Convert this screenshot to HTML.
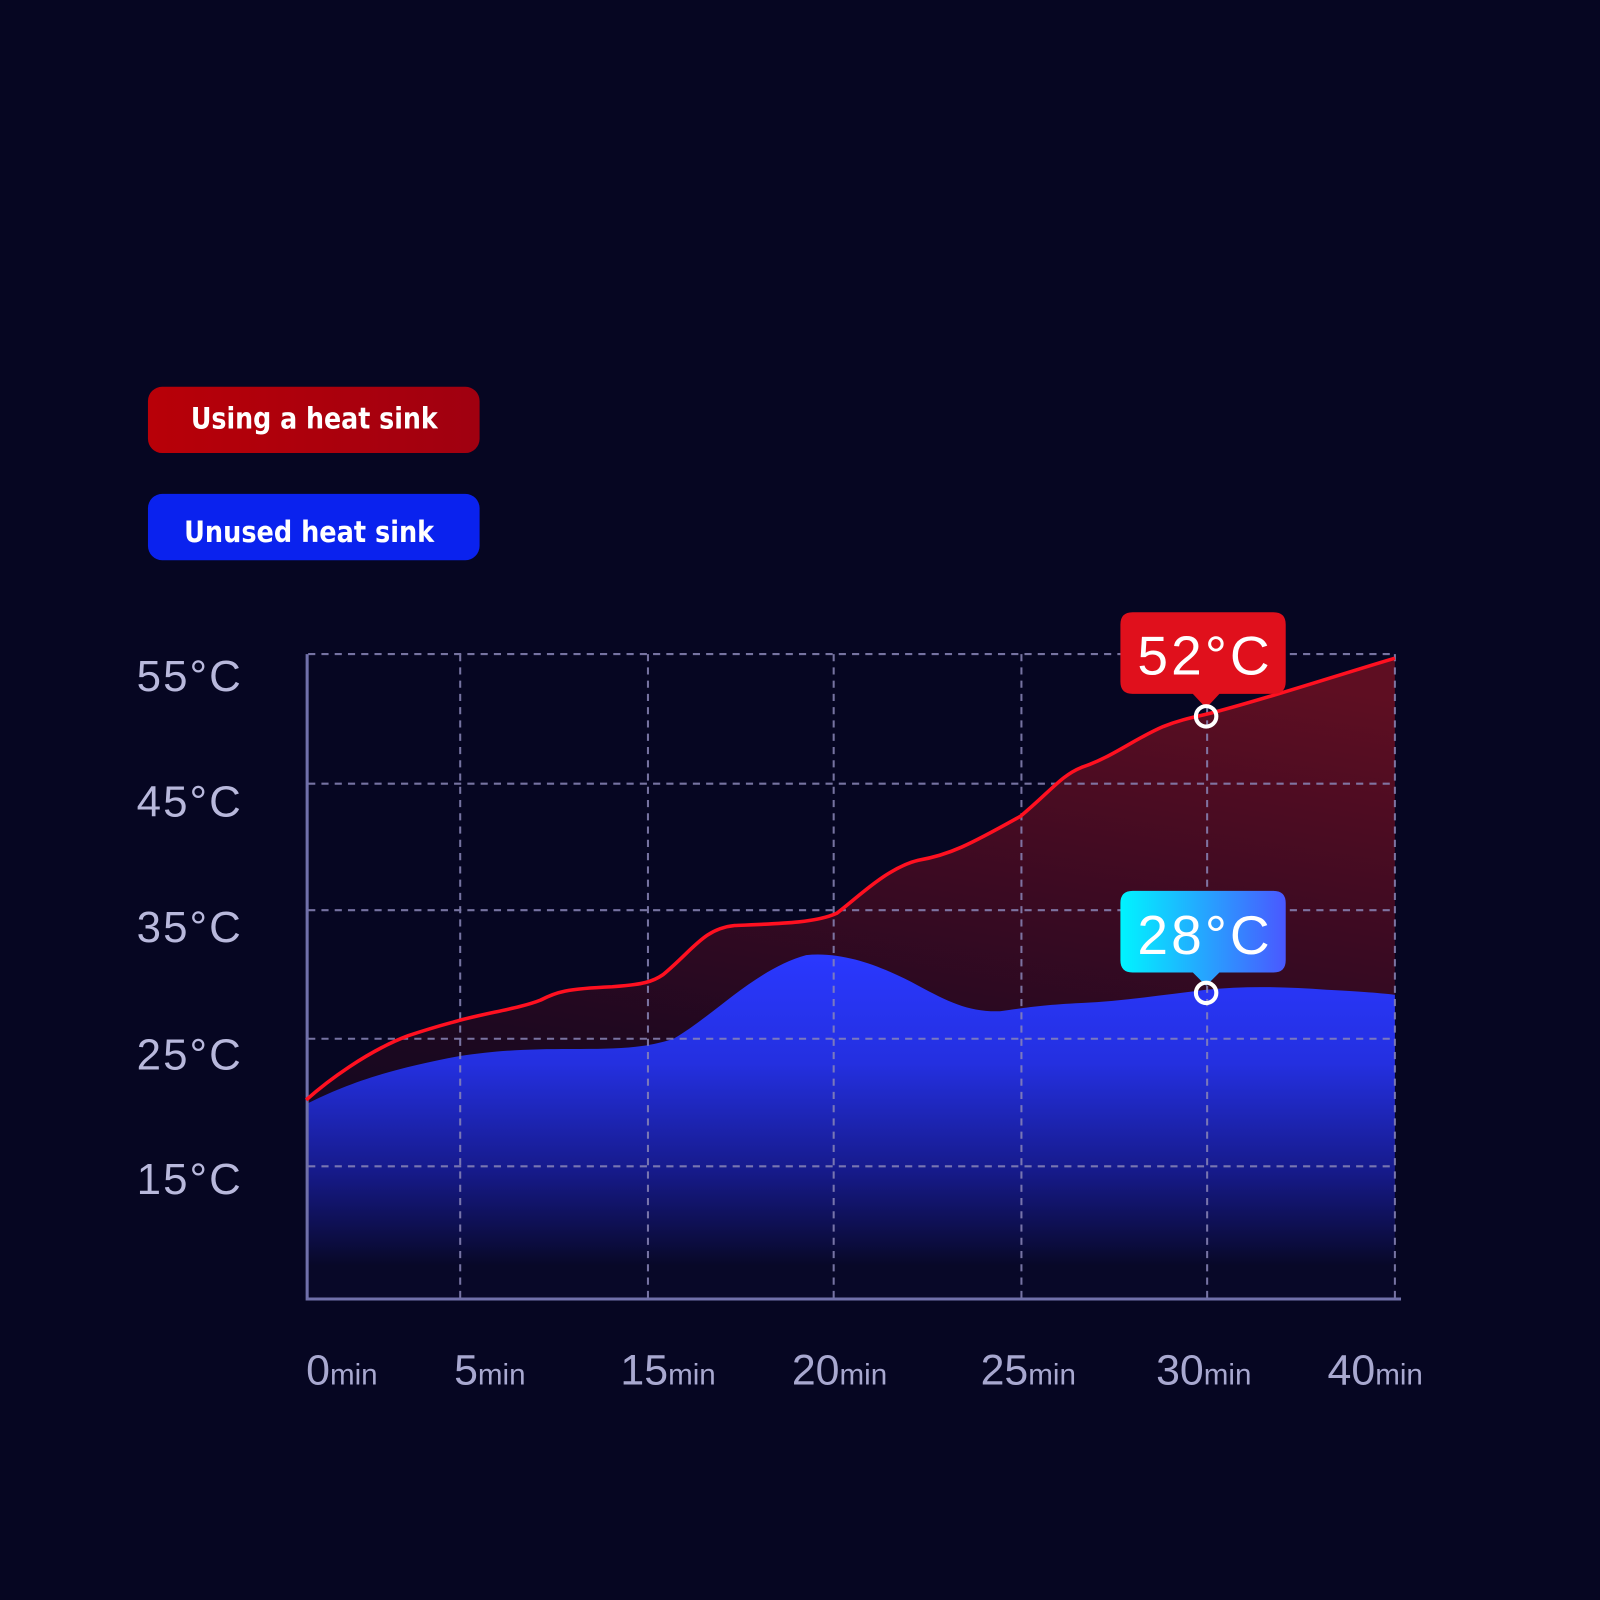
<!DOCTYPE html>
<html><head><meta charset="utf-8"><style>
html,body{margin:0;padding:0;background:#060622;}
svg{display:block}
</style></head><body>
<svg width="1600" height="1600" viewBox="0 0 1568 1568" xmlns="http://www.w3.org/2000/svg" font-family="'Liberation Sans', sans-serif">
<defs>
<linearGradient id="rf" gradientUnits="userSpaceOnUse" x1="1150" y1="650" x2="1050" y2="1272">
<stop offset="0" stop-color="#5e0e22"/><stop offset="0.4" stop-color="#3a0a22"/><stop offset="0.75" stop-color="#1c0820"/><stop offset="1" stop-color="#120820"/>
</linearGradient>
<linearGradient id="bf" gradientUnits="userSpaceOnUse" x1="0" y1="935" x2="0" y2="1240">
<stop offset="0" stop-color="#2a38ff"/><stop offset="0.35" stop-color="#2430e0"/><stop offset="0.7" stop-color="#161a8a"/><stop offset="1" stop-color="#080828"/>
</linearGradient>
<linearGradient id="cy" x1="0" y1="0" x2="1" y2="0">
<stop offset="0" stop-color="#00f4ff"/><stop offset="1" stop-color="#4a58ff"/>
</linearGradient>
<linearGradient id="rl" x1="0" y1="0" x2="1" y2="0">
<stop offset="0" stop-color="#b80008"/><stop offset="1" stop-color="#a00010"/>
</linearGradient>
</defs>
<rect width="1568" height="1568" fill="#060622"/>

<rect x="145" y="379" width="325" height="65" rx="14" fill="url(#rl)"/>
<text x="308" y="420" fill="#fff" font-size="29" font-weight="bold" text-anchor="middle" font-family="'DejaVu Sans Condensed', 'DejaVu Sans', sans-serif" font-stretch="condensed" textLength="242" lengthAdjust="spacingAndGlyphs">Using a heat sink</text>
<rect x="145" y="484" width="325" height="65" rx="14" fill="#0a22ee"/>
<text x="303" y="531" fill="#fff" font-size="29" font-weight="bold" text-anchor="middle" font-family="'DejaVu Sans Condensed', 'DejaVu Sans', sans-serif" font-stretch="condensed" textLength="245" lengthAdjust="spacingAndGlyphs">Unused heat sink</text>

<path d="M300,1078 C320,1060 360,1030 400,1015 C430,1005 440,1003 450,1000 C480,992 510,988 530,980 C545,972 555,969 600,967 C630,965 640,962 650,955 C680,930 690,910 720,907 C770,905 800,904 820,895 C840,880 870,850 900,843 C930,838 950,828 1000,800 C1030,775 1040,760 1060,752 C1090,742 1110,725 1140,712 C1160,704 1175,702 1190,698 C1250,682 1300,665 1367,645 L1367,1272 L300,1272 Z" fill="url(#rf)"/>
<path d="M300,1082 C340,1062 380,1048 450,1035 C490,1029 520,1028 560,1028 C600,1028 630,1028 660,1018 C700,995 740,950 790,936 C830,932 870,950 900,966 C930,982 950,992 980,991 C1010,987 1020,985 1060,983 C1100,981 1140,975 1182,970 C1220,966 1260,967 1300,970 C1340,972 1360,974 1367,975 L1367,1272 L300,1272 Z" fill="url(#bf)"/>

<g stroke="#8a86b8" stroke-width="2" stroke-dasharray="7,6" fill="none" opacity="0.85">
<line x1="302" y1="641" x2="1367" y2="641"/>
<line x1="302" y1="768" x2="1367" y2="768"/>
<line x1="302" y1="892" x2="1367" y2="892"/>
<line x1="302" y1="1018" x2="1367" y2="1018"/>
<line x1="302" y1="1143" x2="1367" y2="1143"/>
<line x1="451" y1="641" x2="451" y2="1272"/>
<line x1="635" y1="641" x2="635" y2="1272"/>
<line x1="817" y1="641" x2="817" y2="1272"/>
<line x1="1001" y1="641" x2="1001" y2="1272"/>
<line x1="1183" y1="641" x2="1183" y2="1272"/>
<line x1="1367" y1="641" x2="1367" y2="1272"/>
</g>
<path d="M301,641 L301,1273 L1373,1273" stroke="#7070aa" stroke-width="3" fill="none"/>

<path d="M300,1078 C320,1060 360,1030 400,1015 C430,1005 440,1003 450,1000 C480,992 510,988 530,980 C545,972 555,969 600,967 C630,965 640,962 650,955 C680,930 690,910 720,907 C770,905 800,904 820,895 C840,880 870,850 900,843 C930,838 950,828 1000,800 C1030,775 1040,760 1060,752 C1090,742 1110,725 1140,712 C1160,704 1175,702 1190,698 C1250,682 1300,665 1367,645" stroke="#ff1020" stroke-width="3.5" fill="none"/>

<g fill="#b8b8dc" font-size="43" text-anchor="end" letter-spacing="2">
<text x="238" y="677">55°C</text>
<text x="238" y="800">45°C</text>
<text x="238" y="923">35°C</text>
<text x="238" y="1048">25°C</text>
<text x="238" y="1170">15°C</text>
</g>
<g fill="#a8a8d0" font-size="42">
<text x="300" y="1357">0<tspan font-size="29">min</tspan></text>
<text x="445" y="1357">5<tspan font-size="29">min</tspan></text>
<text x="608" y="1357">15<tspan font-size="29">min</tspan></text>
<text x="776" y="1357">20<tspan font-size="29">min</tspan></text>
<text x="961" y="1357">25<tspan font-size="29">min</tspan></text>
<text x="1133" y="1357">30<tspan font-size="29">min</tspan></text>
<text x="1301" y="1357">40<tspan font-size="29">min</tspan></text>
</g>

<path d="M1110,600 H1248 Q1260,600 1260,612 V668 Q1260,680 1248,680 H1195 L1182,694 L1169,680 H1110 Q1098,680 1098,668 V612 Q1098,600 1110,600 Z" fill="#e0101c"/>
<text x="1181" y="661" fill="#fff" font-size="54" text-anchor="middle" letter-spacing="3">52°C</text>
<circle cx="1182" cy="702" r="10" fill="none" stroke="#fff" stroke-width="4"/>

<path d="M1110,873 H1248 Q1260,873 1260,885 V941 Q1260,953 1248,953 H1195 L1182,966 L1169,953 H1110 Q1098,953 1098,941 V885 Q1098,873 1110,873 Z" fill="url(#cy)"/>
<text x="1181" y="935" fill="#fff" font-size="54" text-anchor="middle" letter-spacing="3">28°C</text>
<circle cx="1182" cy="973" r="10" fill="none" stroke="#fff" stroke-width="4"/>
</svg>
</body></html>
